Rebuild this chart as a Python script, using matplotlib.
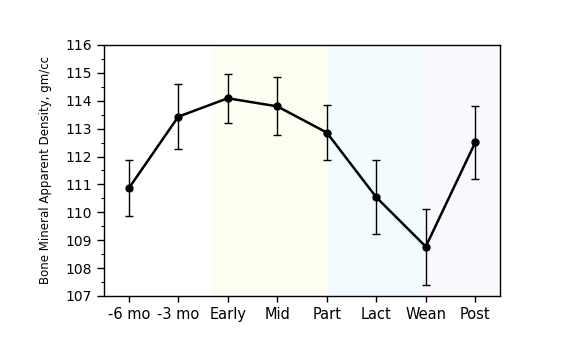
import numpy as np
import matplotlib
matplotlib.use("Agg")
import matplotlib.pyplot as plt
from matplotlib.ticker import MultipleLocator

# bone mineral apparent density over the reproductive cycle
stages = ["-6 mo", "-3 mo", "Early", "Mid", "Part", "Lact", "Wean", "Post"]
density = [110.86, 113.43, 114.09, 113.80, 112.86, 110.54, 108.77, 112.51]
err = [1.00, 1.17, 0.88, 1.04, 0.98, 1.33, 1.36, 1.30]

# shaded periods (in stage-index units): pregnancy, lactation, post-weaning
bands = [(1.7, 4.0), (4.0, 5.95), (5.95, 7.5)]
band_colors = ["#fefef3", "#f2fcff", "#faf8fc"]

fig = plt.figure(figsize=(5.76, 3.6), dpi=100)
ax = fig.add_axes([0.1806, 0.1778, 0.6875, 0.6972])

x = np.arange(len(stages))
for (a, b), c in zip(bands, band_colors):
    ax.axvspan(a, b, color=c, lw=0, zorder=0)

ax.errorbar(x, density, yerr=err, color="black", lw=1.8, marker="o", ms=5,
            ecolor="black", elinewidth=1, capsize=3, capthick=1, zorder=3)

ax.set_xlim(-0.5, 7.5)
ax.set_ylim(107, 116)
ax.set_xticks(x)
ax.set_xticklabels(stages, fontsize=10.5)
ax.yaxis.set_major_locator(MultipleLocator(1))
ax.yaxis.set_minor_locator(MultipleLocator(0.5))
ax.tick_params(axis="y", labelsize=10, direction="out", length=5, width=1)
ax.tick_params(axis="y", which="minor", length=2.5, width=0.8)
ax.tick_params(axis="x", direction="out", length=4, width=1, pad=4)
ax.set_ylabel("Bone Mineral Apparent Density, gm/cc", fontsize=8.5, labelpad=10)

for s in ax.spines.values():
    s.set_linewidth(1)

fig.savefig("out.png", dpi=100)
